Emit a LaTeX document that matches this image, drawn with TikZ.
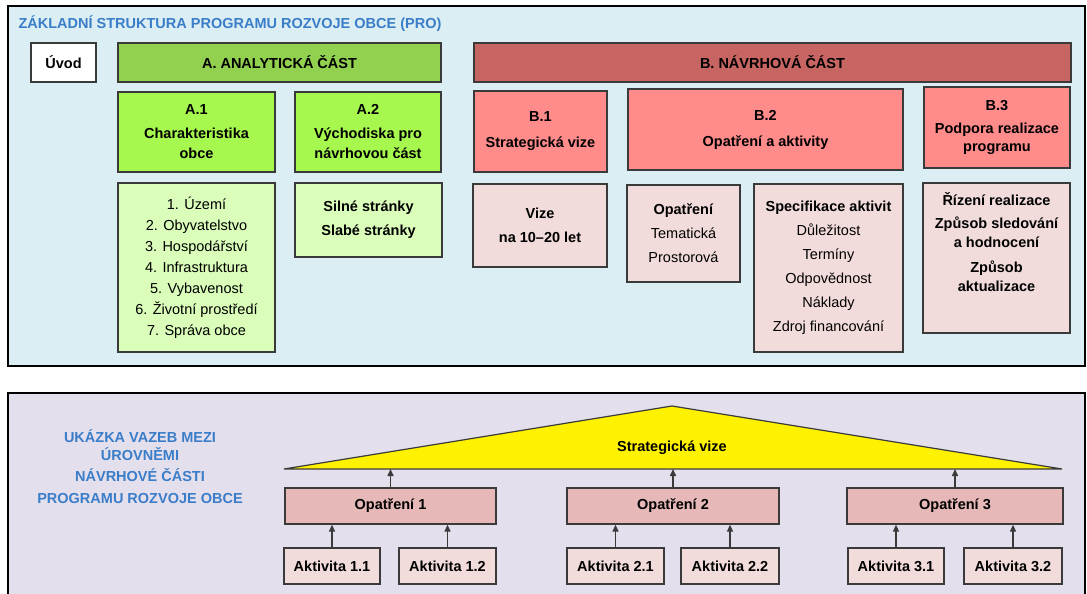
\documentclass[tikz,border=0pt]{standalone}
\usepackage{fontspec}
\setmainfont{Liberation Sans}
\usetikzlibrary{positioning,
        arrows.meta}
\usepackage{xcolor}
\definecolor{bgtop}{HTML}{DAEEF3}
\definecolor{bgbot}{HTML}{E4DFEC}
\definecolor{edge}{HTML}{3A3A3A}
\definecolor{titleblue}{HTML}{3A7DC9}
\definecolor{greenA}{HTML}{92D050}
\definecolor{greenhead}{HTML}{A6F84F}
\definecolor{greenlist}{HTML}{DAFDBA}
\definecolor{redB}{HTML}{C66562}
\definecolor{redhead}{HTML}{FF8B8B}
\definecolor{redlist}{HTML}{F2DCDB}
\definecolor{optfill}{HTML}{E6B8B7}
\newcommand{\boxfont}{\fontsize{14.5}{21}\selectfont}

\begin{document}
\begin{tikzpicture}[x=1pt,y=-1pt,
        box/.style={draw=edge,line width=1.3pt,align=center,inner sep=0pt,font=\boxfont\bfseries},
        plainbox/.style={box,font=\boxfont},
        arr/.style={draw=edge,line width=1.5pt,-{Triangle[length=7pt,width=6pt]}},
        bluetext/.style={text=titleblue,font=\boxfont\bfseries}]
    \useasboundingbox (0,0) rectangle (1087,594);

    % upper panel
    \draw [line width=2.5pt,fill=bgtop] (8,6) rectangle (1085,366);
    \node [bluetext,anchor=west] (title) at (15,24) {ZÁKLADNÍ STRUKTURA PROGRAMU ROZVOJE OBCE (PRO)};

    \node [box,fill=white,minimum width=65,minimum height=39] (uvod) at (63.5,62.5) {Úvod};
    \node [box,fill=greenA,minimum width=323,minimum height=39] (partA) at (279.5,62.5) {A. ANALYTICKÁ ČÁST};
    \node [box,fill=redB,minimum width=597,minimum height=39] (partB) at (772.5,62.5) {B. NÁVRHOVÁ ČÁST};

    \node [box,fill=greenhead,minimum width=157,minimum height=80] (a1) at (196.5,132) {A.1\\[3pt]Charakteristika\\[-1pt]obce};
    \node [box,fill=greenhead,minimum width=146,minimum height=80] (a2) at (368,132) {A.2\\[3pt]Východiska pro\\[-1pt]návrhovou část};
    \node [box,fill=redhead,minimum width=133,minimum height=81] (b1) at (540.5,131.5) {B.1\\[5pt]Strategická vize};
    \node [box,fill=redhead,minimum width=275,minimum height=81] (b2) at (765.5,129.5) {B.2\\[5pt]Opatření a aktivity};
    \node [box,fill=redhead,minimum width=146,minimum height=81] (b3) at (997,127.5) {B.3\\[2pt]Podpora realizace\\[-3pt]programu};

    \node [plainbox,fill=greenlist,minimum width=157,minimum height=169] (a1list) at (196.5,267.5)
        {1. Území\\2. Obyvatelstvo\\3. Hospodářství\\4. Infrastruktura\\5. Vybavenost\\6. Životní prostředí\\7. Správa obce};
    \node [box,fill=greenlist,minimum width=147,minimum height=74] (a2list) at (368.5,220)
        {Silné stránky\\[3pt]Slabé stránky};
    \node [box,fill=redlist,minimum width=134,minimum height=83] (b1list) at (540,225.5)
        {Vize\\[3pt]na 10–20 let};
    \node [plainbox,fill=redlist,minimum width=113,minimum height=97] (opat) at (683.5,233.5)
        {\textbf{Opatření}\\[3pt]Tematická\\[3pt]Prostorová};
    \node [plainbox,fill=redlist,minimum width=149,minimum height=168] (spec) at (828.5,268)
        {\textbf{Specifikace aktivit}\\[3pt]Důležitost\\[3pt]Termíny\\[3pt]Odpovědnost\\[3pt]Náklady\\[3pt]Zdroj financování};
    \node [box,fill=redlist,minimum width=147,minimum height=150] (b3list) at (996.5,258)
        {Řízení realizace\\[2pt]Způsob sledování\\[-2pt]a hodnocení\\[4pt]Způsob\\[-2pt]aktualizace\\[5pt]\strut};

    % lower panel
    \draw [line width=2.5pt,fill=bgbot] (8,393) rectangle (1085,620);
    \node [bluetext,align=center] (caption) at (140,467)
        {UKÁZKA VAZEB MEZI\\[-3pt]ÚROVNĚMI\\NÁVRHOVÉ ČÁSTI\\[1pt]PROGRAMU ROZVOJE OBCE};

    \coordinate (tl) at (284,469);
    \coordinate (top) at (672,406);
    \coordinate (tr) at (1062,469);
    \draw [draw=edge,line width=1.2pt,fill=yellow] (tl) -- (top) -- (tr) -- cycle;
    \node [font=\boxfont\bfseries] (vize) at (672,448) {Strategická vize};

    \node [box,fill=optfill,minimum width=211,minimum height=36] (opt1) at (390.5,506) {Opatření 1};
    \node [box,fill=optfill,minimum width=212,minimum height=36] (opt2) at (673,506) {Opatření 2};
    \node [box,fill=optfill,minimum width=216,minimum height=36] (opt3) at (955,506) {Opatření 3};

    \node [box,fill=redlist,minimum width=96,minimum height=36] (akt11) at (332,566) {Aktivita 1.1};
    \node [box,fill=redlist,minimum width=97,minimum height=36] (akt12) at (447.5,566) {Aktivita 1.2};
    \node [box,fill=redlist,minimum width=97,minimum height=36] (akt21) at (615.5,566) {Aktivita 2.1};
    \node [box,fill=redlist,minimum width=98,minimum height=36] (akt22) at (730,566) {Aktivita 2.2};
    \node [box,fill=redlist,minimum width=96,minimum height=36] (akt31) at (896,566) {Aktivita 3.1};
    \node [box,fill=redlist,minimum width=98,minimum height=36] (akt32) at (1013,566) {Aktivita 3.2};

    \draw [arr] (opt1.north) -- (opt1.north |- tl);
    \draw [arr] (opt2.north) -- (opt2.north |- tl);
    \draw [arr] (opt3.north) -- (opt3.north |- tl);

    \draw [arr] (akt11.north) -- (akt11.north |- opt1.south);
    \draw [arr] (akt12.north) -- (akt12.north |- opt1.south);
    \draw [arr] (akt21.north) -- (akt21.north |- opt2.south);
    \draw [arr] (akt22.north) -- (akt22.north |- opt2.south);
    \draw [arr] (akt31.north) -- (akt31.north |- opt3.south);
    \draw [arr] (akt32.north) -- (akt32.north |- opt3.south);
\end{tikzpicture}
\end{document}
